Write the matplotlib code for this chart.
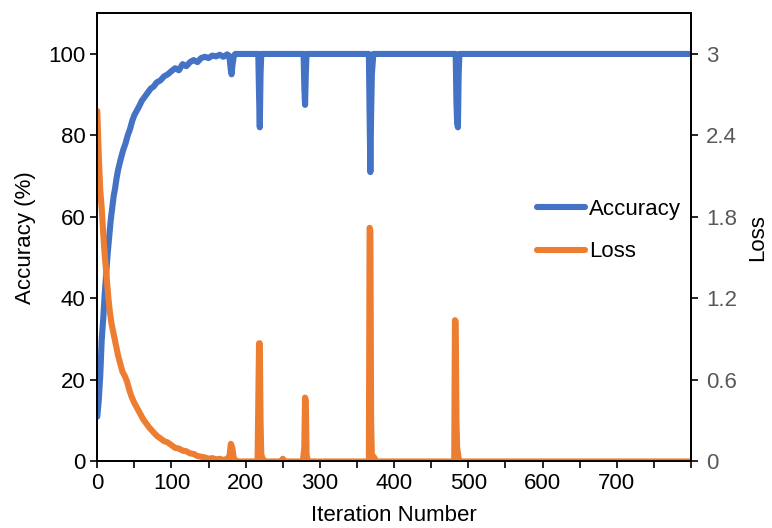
import matplotlib.pyplot as plt
from matplotlib.ticker import MultipleLocator

plt.rcParams['font.family'] = ['Liberation Sans', 'DejaVu Sans']

# accuracy (%) per iteration
acc_iter = [0, 2, 4, 6, 8, 10, 12, 14, 16, 18, 20, 22, 24, 26, 28, 30, 32, 35, 38, 41,
            44, 47, 50, 53, 56, 60, 64, 68, 72, 76, 80, 85, 90, 95, 100, 105, 110, 115,
            120, 125, 130, 135, 140, 145, 150, 155, 160, 165, 170, 175, 178, 180, 181,
            182, 184, 186, 217, 218, 219, 220, 221, 278, 279, 280, 281, 282, 366, 367,
            368, 369, 370, 372, 483, 484, 485, 486, 487, 488, 800]
acc_val = [11, 15, 21, 30, 35, 41, 46, 51, 55, 59, 62, 65, 67, 69.5, 71.5, 73, 74.5, 76.5,
           78, 80, 81.5, 83.5, 85, 86, 87, 88.5, 89.5, 90.5, 91.5, 92, 93, 93.5, 94.5, 95,
           95.8, 96.5, 96, 97.5, 97, 98, 98.5, 98, 99, 99.3, 99, 99.6, 99.4, 99.8, 99.3,
           99.9, 99.5, 96, 95, 97, 99.5, 100, 100, 90, 82, 95, 100, 100, 92, 87.5, 95, 100,
           100, 85, 71, 85, 95, 100, 100, 88, 83, 82, 95, 100, 100]

# loss per iteration
loss_iter = [0, 2, 4, 6, 8, 10, 12, 15, 17, 19, 22, 25, 28, 31, 34, 37, 40, 43, 46, 50,
             54, 58, 62, 66, 70, 75, 80, 85, 90, 95, 100, 105, 110, 115, 120, 125, 130,
             135, 140, 145, 150, 155, 160, 165, 170, 175, 178, 180, 182, 184, 186, 190,
             216, 218, 219, 220, 221, 223, 226, 248, 250, 252, 277, 279, 280, 281, 282,
             284, 366, 367, 368, 369, 370, 373, 376, 481, 482, 483, 484, 485, 487, 490, 800]
loss_val = [2.58, 2.25, 2.0, 1.86, 1.68, 1.52, 1.40, 1.20, 1.10, 1.02, 0.94, 0.86, 0.78,
            0.72, 0.66, 0.63, 0.59, 0.53, 0.48, 0.43, 0.39, 0.35, 0.31, 0.28, 0.25, 0.22,
            0.19, 0.17, 0.15, 0.14, 0.12, 0.10, 0.095, 0.08, 0.075, 0.06, 0.055, 0.04,
            0.035, 0.03, 0.02, 0.025, 0.015, 0.02, 0.01, 0.02, 0.03, 0.13, 0.10, 0.02,
            0.01, 0.0, 0.0, 0.87, 0.87, 0.3, 0.05, 0.02, 0.0, 0.0, 0.02, 0.0, 0.0, 0.1,
            0.47, 0.45, 0.05, 0.0, 0.0, 1.72, 1.70, 0.3, 0.05, 0.03, 0.0, 0.0, 1.04, 1.03,
            0.3, 0.1, 0.02, 0.0, 0.0]

blue = '#4472C4'
orange = '#ED7D31'
grey = '#595959'
fs = 16

fig = plt.figure(figsize=(7.72, 5.28), dpi=100)
ax = fig.add_axes([0.126, 0.126, 0.769, 0.849])
ax2 = ax.twinx()

l1, = ax.plot(acc_iter, acc_val, color=blue, lw=4.4,
              solid_capstyle='round', solid_joinstyle='round', label='Accuracy')
l2, = ax2.plot(loss_iter, loss_val, color=orange, lw=4.4,
               solid_capstyle='round', solid_joinstyle='round', label='Loss')

ax.set_xlim(0, 800)
ax.set_ylim(0, 110)
ax2.set_ylim(0, 3.3)

ax.set_xticks(range(0, 800, 100))
ax.xaxis.set_minor_locator(MultipleLocator(50))
ax.set_yticks(range(0, 101, 20))
ax2.set_yticks([0, 0.6, 1.2, 1.8, 2.4, 3])
ax2.set_yticklabels(['0', '0.6', '1.2', '1.8', '2.4', '3'])

ax.tick_params(axis='both', which='major', direction='out', length=5, width=1.2,
               labelsize=fs, colors='black')
ax.tick_params(axis='x', which='minor', direction='out', length=5, width=1.2)
ax2.tick_params(axis='y', direction='out', length=5, width=1.2, labelsize=fs,
                labelcolor=grey, color='black', pad=6)

for a in (ax, ax2):
    for s in a.spines.values():
        s.set_linewidth(1.3)
        s.set_color('black')

ax.set_xlabel('Iteration Number', fontsize=fs, labelpad=8)
ax.set_ylabel('Accuracy (%)', fontsize=fs, labelpad=9)
ax2.set_ylabel('Loss', fontsize=fs, labelpad=7)

ax2.legend(handles=[l1, l2], loc='upper left', bbox_to_anchor=(0.74, 0.585),
           frameon=False, fontsize=fs, borderpad=0, borderaxespad=0,
           handlelength=2.2, handletextpad=0.15, labelspacing=0.95)

fig.savefig('out.png', dpi=100)
